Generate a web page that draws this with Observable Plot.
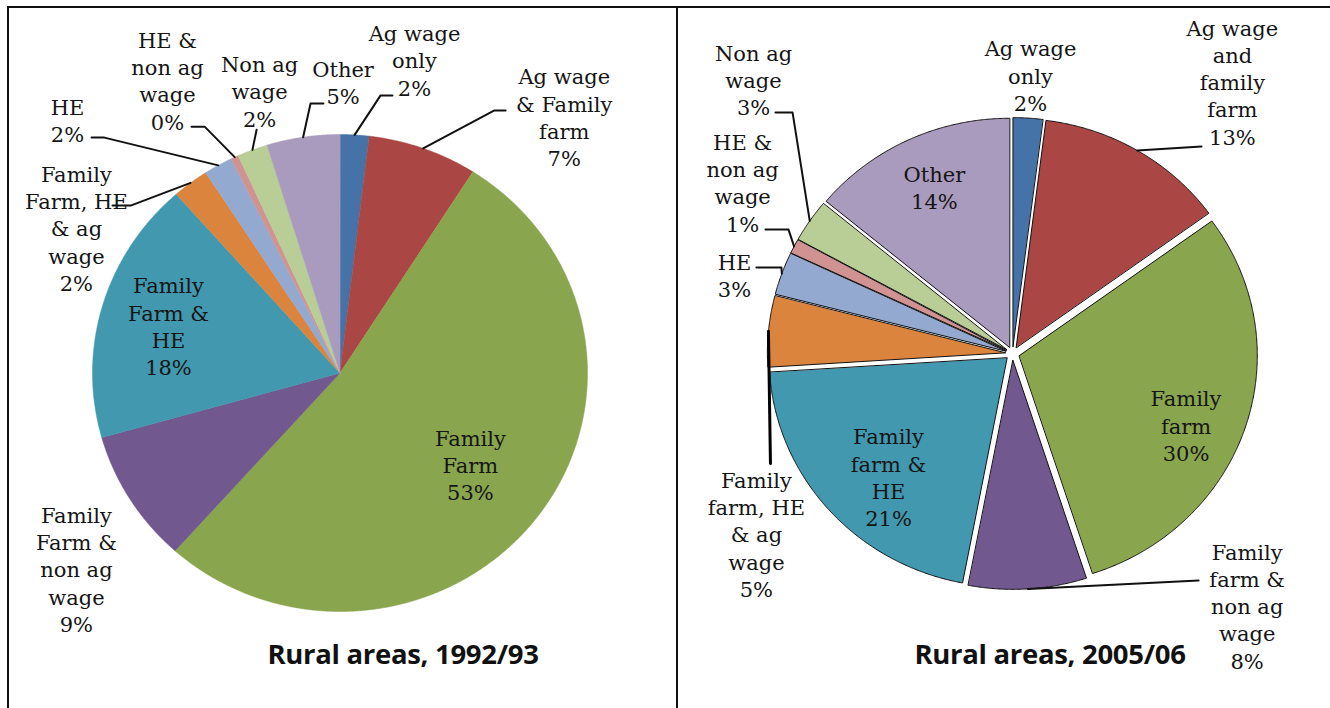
<!DOCTYPE html>
<html><head><meta charset="utf-8">
<script src="https://cdn.jsdelivr.net/npm/d3@7"></script>
<script src="https://cdn.jsdelivr.net/npm/@observablehq/plot@0.6"></script>
<style>
body{margin:0;background:#fff;width:1330px;height:708px;overflow:hidden;position:relative;}
.panel{position:absolute;top:6px;height:720px;border-left:2px solid #111;border-top:2px solid #111;}
.title{position:absolute;top:639px;font-family:"Open Sans",Lato,sans-serif;font-weight:bold;font-size:27.5px;line-height:30px;color:#111;white-space:nowrap;transform:translateX(-50%);letter-spacing:-0.3px;}
</style></head><body>
<div id="p1" class="panel" style="left:7px;width:667px"></div>
<div id="p2" class="panel" style="left:676px;width:660px"></div>
<div class="title" style="left:403px">Rural areas, 1992/93</div>
<div class="title" style="left:1050px">Rural areas, 2005/06</div>
<script>
// ---- data ----
const colors = ["#4572A7","#AA4643","#89A54E","#71588F","#4198AF","#DB843D","#93A9CF","#D19392","#B9CD96","#A99BBD"];

const cats1 = ["Ag wage\nonly","Ag wage\n& Family\nfarm","Family\nFarm","Family\nFarm &\nnon ag\nwage","Family\nFarm &\nHE","Family\nFarm, HE\n& ag\nwage","HE","HE &\nnon ag\nwage","Non ag\nwage","Other"];
const vals1 = [1.9, 7.2, 53.0, 9.1, 18.0, 2.4, 1.9, 0.5, 2.0, 4.8];

const cats2 = ["Ag wage\nonly","Ag wage\nand\nfamily\nfarm","Family\nfarm","Family\nfarm &\nnon ag\nwage","Family\nfarm &\nHE","Family\nfarm, HE\n& ag\nwage","HE","HE &\nnon ag\nwage","Non ag\nwage","Other"];
const vals2 = [2, 13, 30, 8, 21, 5, 3, 1, 3, 14];

// ---- layout (unit-radius pie coordinates) ----
const labelPos1 = [[0.301,1.314],[0.906,1.075],[0.527,-0.382],[-1.065,-0.820],[-0.693,0.199],[-1.065,0.610],[-1.101,1.061],[-0.697,1.229],[-0.325,1.184],[0.0125,1.220]];
const leaders1 = [
  {i:0, w:2, pts:[[0.212,1.164],[0.164,1.164]]},
  {i:1, w:2, pts:[[0.669,1.101],[0.624,1.101]]},
  {i:5, w:2, pts:[[-0.919,0.702],[-0.846,0.702]]},
  {i:6, w:2, pts:[[-1.004,0.987],[-0.952,0.987]]},
  {i:7, w:2, pts:[[-0.600,1.033],[-0.547,1.033]]},
  {i:8, w:2, pts:[[-0.337,1.020]]},
  {i:9, w:2, pts:[[-0.067,1.130],[-0.119,1.130]]}
];
const labelPos2 = [[0.0756,1.217],[0.924,1.188],[0.729,-0.312],[0.986,-1.100],[-0.521,-0.537],[-1.076,-0.786],[-1.168,0.343],[-1.134,0.749],[-1.088,1.197],[-0.328,0.727]];
const leaders2 = [
  {i:1, w:2, pts:[[0.794,0.904]]},
  {i:3, w:2, pts:[[0.782,-0.991]]},
  {i:5, w:3, pts:[[-1.017,-0.480]]},
  {i:6, w:2, pts:[[-1.076,0.376],[-0.971,0.376]]},
  {i:7, w:2, pts:[[-1.038,0.541],[-0.941,0.541]]},
  {i:8, w:2, pts:[[-0.996,1.052],[-0.924,1.052]]}
];

function pie(opts) {
  const {cats, vals, labelPos, leaders, explode, outline, w, h, cx, cy, rx, ry} = opts;
  const total = d3.sum(vals);
  const arcs = d3.pie().sort(null).value(d => d)(vals);
  const slices = [];
  arcs.forEach((a, i) => {
    const mid = (a.startAngle + a.endAngle) / 2;
    const ox = explode * Math.sin(mid), oy = explode * Math.cos(mid);
    slices.push({k: cats[i], x: ox, y: oy});
    const n = Math.max(2, Math.ceil((a.endAngle - a.startAngle) / 0.005));
    for (let j = 0; j <= n; j++) {
      const t = a.startAngle + (a.endAngle - a.startAngle) * j / n;
      slices.push({k: cats[i], x: ox + Math.sin(t), y: oy + Math.cos(t)});
    }
  });
  const labels = cats.map((c, i) => ({
    x: labelPos[i][0], y: labelPos[i][1],
    t: c + "\n" + Math.round(vals[i] / total * 100) + "%"
  }));
  const lead = [];
  leaders.forEach((L, j) => {
    const a = arcs[L.i], mid = (a.startAngle + a.endAngle) / 2;
    L.pts.forEach(p => lead.push({id: j, w: L.w, x: p[0], y: p[1]}));
    lead.push({id: j, w: L.w, x: (1 + explode) * Math.sin(mid), y: (1 + explode) * Math.cos(mid)});
  });
  return Plot.plot({
    width: w, height: h, margin: 0,
    x: {domain: [-1, 1], range: [cx - rx, cx + rx], axis: null},
    y: {domain: [-1, 1], range: [cy + ry, cy - ry], axis: null},
    color: {domain: cats, range: colors},
    style: {background: "transparent", overflow: "visible"},
    marks: [
      Plot.line(slices, {x: "x", y: "y", z: "k", fill: "k", curve: "linear-closed",
        stroke: outline ? "#111" : "k", strokeWidth: outline ? 1 : 0.5}),
      Plot.line(lead.filter(d => d.w === 2), {x: "x", y: "y", z: "id", stroke: "#111", strokeWidth: 2}),
      Plot.line(lead.filter(d => d.w === 3), {x: "x", y: "y", z: "id", stroke: "#000", strokeWidth: 3}),
      Plot.text(labels, {x: "x", y: "y", text: "t", fontFamily: "DejaVu Serif", fontSize: 21,
        lineHeight: 1.3, fill: "#151515", textAnchor: "middle"})
    ]
  });
}

document.getElementById("p1").append(pie({
  cats: cats1, vals: vals1, labelPos: labelPos1, leaders: leaders1, explode: 0, outline: false,
  w: 667, h: 700, cx: 330.5, cy: 364.5, rx: 247.5, ry: 238.5
}));
document.getElementById("p2").append(pie({
  cats: cats2, vals: vals2, labelPos: labelPos2, leaders: leaders2, explode: 0.03, outline: true,
  w: 652, h: 700, cx: 334, cy: 345, rx: 238, ry: 229
}));
</script>
</body></html>
